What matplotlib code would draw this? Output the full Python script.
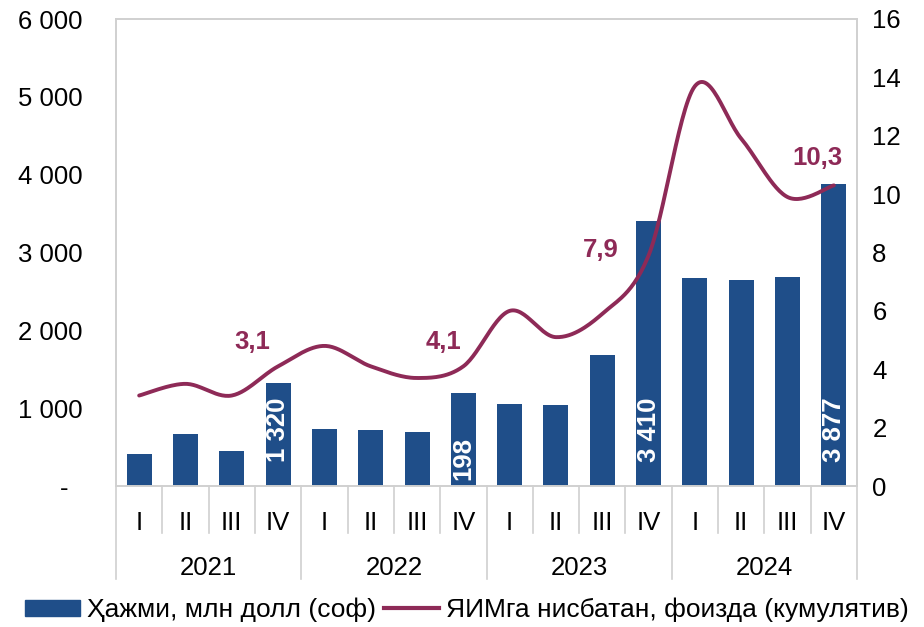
import numpy as np
import matplotlib
matplotlib.use('Agg')
import matplotlib.pyplot as plt
from matplotlib.patches import Patch
from matplotlib.lines import Line2D

plt.rcParams['font.family'] = ['Liberation Sans', 'DejaVu Sans']

years = ['2021', '2022', '2023', '2024']
quarters = ['I', 'II', 'III', 'IV']
# Ҳажми, млн долл (соф)
volume = [410, 670, 450, 1320, 730, 720, 700, 1198,
          1050, 1040, 1680, 3410, 2670, 2650, 2690, 3877]
# ЯИМга нисбатан, фоизда (кумулятив)
gdp_share = [3.1, 3.5, 3.1, 4.1, 4.8, 4.1, 3.7, 4.1,
             6.0, 5.1, 5.9, 7.9, 13.7, 11.9, 9.9, 10.3]
bar_label_idx = [3, 7, 11, 15]
bar_label_txt = ['1 320', '198', '3 410', '3 877']
line_label_idx = [3, 7, 11, 15]
line_label_txt = ['3,1', '4,1', '7,9', '10,3']
left_ticks = [0, 1000, 2000, 3000, 4000, 5000, 6000]
left_tick_txt = ['-  ', '1 000', '2 000', '3 000', '4 000', '5 000', '6 000']
right_ticks = [0, 2, 4, 6, 8, 10, 12, 14, 16]

BLUE = '#1F4E89'
MAROON = '#8E2A57'
GRID = '#D0D0D0'
FS = 18.5


def smooth(x, y, steps=30):
    # сплайн каби силлиқ чизиқ (Catmull-Rom / Bezier)
    x = np.asarray(x, float)
    y = np.asarray(y, float)
    px = np.concatenate(([x[0]], x, [x[-1]]))
    py = np.concatenate(([y[0]], y, [y[-1]]))
    xs, ys = [], []
    t = np.linspace(0, 1, steps)
    for i in range(1, len(px) - 2):
        p0 = np.array([px[i], py[i]])
        p3 = np.array([px[i + 1], py[i + 1]])
        c1 = p0 + (np.array([px[i + 1], py[i + 1]]) - np.array([px[i - 1], py[i - 1]])) / 6
        c2 = p3 - (np.array([px[i + 2], py[i + 2]]) - np.array([px[i], py[i]])) / 6
        b = ((1 - t) ** 3)[:, None] * p0 + (3 * (1 - t) ** 2 * t)[:, None] * c1 \
            + (3 * (1 - t) * t ** 2)[:, None] * c2 + (t ** 3)[:, None] * p3
        xs.extend(b[:, 0])
        ys.extend(b[:, 1])
    return np.array(xs), np.array(ys)


fig = plt.figure(figsize=(9.24, 6.27), dpi=100)
ax = fig.add_axes([116 / 924, 1 - 486 / 627, (857 - 116) / 924, (486 - 19) / 627])
ax2 = ax.twinx()

x = np.arange(len(volume))
ax.bar(x, volume, width=0.54, color=BLUE, zorder=2)
ax.set_xlim(-0.5, len(volume) - 0.5)
ax.set_ylim(0, 6000)
ax.set_yticks(left_ticks)
ax.set_yticklabels(left_tick_txt, fontsize=FS)
ax.set_xticks(x)
ax.set_xticklabels(quarters * len(years), fontsize=FS)
ax.tick_params(axis='y', length=0, pad=24)
ax.tick_params(axis='x', length=0, pad=18)

for i, txt in zip(bar_label_idx, bar_label_txt):
    yoff = 80 if txt == '198' else 305
    ax.text(x[i], yoff, txt, rotation=90, ha='center', va='bottom',
            color='white', fontsize=FS, fontweight='bold', zorder=3)

sx, sy = smooth(x, gdp_share)
ax2.plot(sx, sy, color=MAROON, lw=2.8, solid_capstyle='round')
ax2.set_ylim(0, 16)
ax2.set_yticks(right_ticks)
ax2.set_yticklabels([str(v) for v in right_ticks], fontsize=FS)
ax2.tick_params(axis='y', length=0, pad=11)

offsets = [(-26, 24), (-20, 24), (-48, 5), (-16, 27)]
for i, txt, off in zip(line_label_idx, line_label_txt, offsets):
    ax2.annotate(txt, xy=(x[i], gdp_share[i]), xytext=off, textcoords='offset pixels',
                 ha='center', va='center', color=MAROON, fontsize=FS, fontweight='bold')

for a in (ax, ax2):
    for s in a.spines.values():
        s.set_color(GRID)
        s.set_linewidth(1.2)

# категория ўқи: чорак ва йил ажратгичлари
trans = ax.get_xaxis_transform()
for b in np.arange(-0.5, len(volume), 1.0):
    is_year = int(b + 0.5) % 4 == 0
    ax.plot([b, b], [0, -0.20 if is_year else -0.10], color=GRID, lw=1.2,
            transform=trans, clip_on=False)
for k, yr in enumerate(years):
    ax.text(4 * k + 1.5, -0.175, yr, transform=trans, ha='center', va='center', fontsize=FS)

handles = [Patch(color=BLUE), Line2D([0], [0], color=MAROON, lw=3)]
labels = ['Ҳажми, млн долл (соф)', 'ЯИМга нисбатан, фоизда (кумулятив)']
fig.legend(handles, labels, loc='lower center', bbox_to_anchor=(0.505, -0.03), ncol=2,
           frameon=False, fontsize=19, handlelength=2.1, handleheight=0.55,
           handletextpad=0.25, columnspacing=0.3)

fig.savefig('out.png', dpi=100)
